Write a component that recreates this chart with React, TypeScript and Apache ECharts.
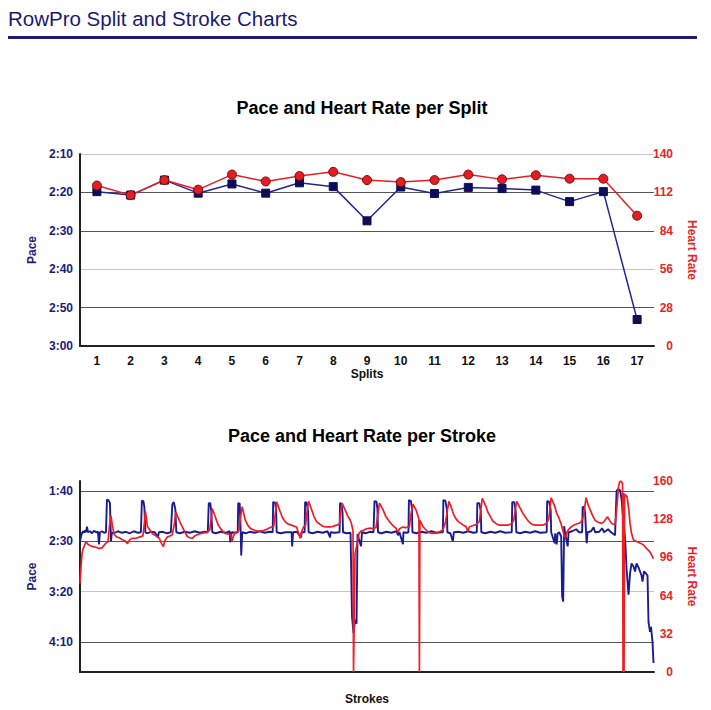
import React, { useEffect, useRef } from 'react';
import * as echarts from 'echarts';

// ---------- Split chart data ----------
const splitCategories = ['1', '2', '3', '4', '5', '6', '7', '8', '9', '10', '11', '12', '13', '14', '15', '16', '17'];
// pace per split, in seconds per 500m
const splitPaceSeconds = [139.8, 140.7, 136.8, 140.2, 137.8, 140.2, 137.5, 138.5, 147.4, 138.6, 140.3, 138.7, 139.0, 139.4, 142.4, 139.8, 173.1];
const splitHeartRate = [117, 110, 121, 114, 125, 120, 124, 127, 121, 119.5, 121, 125, 121.5, 124.5, 122, 122, 95];

// ---------- Stroke chart data: [stroke, value] ----------
const strokePace: number[][] = [
  [0, 150], [3, 143], [6, 140], [8, 141.5], [10, 139], [12, 141], [14, 135.5], [16, 141], [20, 140], [24, 142], [28, 139.5], [32, 141], [36, 140.5], [38, 153], [40, 141], [44, 140], [48, 141.5], [52, 141],
  [54, 108.5], [57, 109], [60, 112], [62, 150], [64, 141], [68, 142], [76, 140], [84, 141.5], [92, 140.5], [100, 142], [108, 140], [116, 141.5], [122, 141],
  [124, 109.5], [127, 110], [129, 116], [131, 141], [134, 142], [142, 140.5], [150, 141], [156, 146], [158, 141], [166, 140.5], [174, 142], [182, 141],
  [185, 113], [188, 111], [191, 118], [193, 141], [200, 142], [210, 140.5], [220, 141.5], [230, 140], [240, 141.5], [250, 140.5], [256, 141],
  [258, 112], [261, 112], [263, 120], [265, 141], [272, 142], [282, 140.5], [292, 141.5], [300, 140], [301, 151], [304, 141], [312, 141.5], [316, 141],
  [317, 112], [320, 112.5], [322, 141], [323, 164], [325, 141], [332, 142], [340, 140.5], [350, 141.5], [360, 140], [370, 141.5], [380, 140.5], [386, 141],
  [387, 111], [391, 111.5], [393, 120], [394, 141], [402, 142], [412, 141], [424, 141], [425, 155], [427, 141], [434, 140.5], [443, 146], [444, 141], [450, 141],
  [451, 111], [454, 111.5], [457, 120], [458, 141], [466, 142], [476, 140.5], [486, 141.5], [496, 140], [501, 146], [502, 141], [510, 141.5], [520, 141],
  [521, 112], [524, 112.5], [526, 122], [527, 141], [534, 142], [542, 141.5], [545, 225], [548, 241], [551, 228], [554, 232], [556, 143], [563, 155], [565, 141], [572, 142], [580, 140.5], [588, 141],
  [590, 110], [594, 110.5], [596, 118], [597, 141], [604, 142], [614, 140.5], [624, 141.5], [634, 140], [637, 144], [640, 141], [647, 153], [648, 141], [654, 141.5], [658, 141],
  [659, 109], [663, 110], [665, 117], [666, 141], [674, 142], [684, 140.5], [694, 141.5], [704, 140], [714, 141.5], [724, 141], [727, 141],
  [728, 109], [732, 109.5], [735, 118], [736, 141], [742, 142], [747, 150], [749, 141], [758, 140.5], [768, 141.5], [778, 140], [788, 141.5], [795, 141],
  [796, 112], [800, 112], [803, 120], [804, 141], [812, 142], [822, 140.5], [832, 141.5], [842, 140], [852, 141.5], [865, 141],
  [866, 111], [870, 111], [873, 120], [874, 141], [882, 142], [892, 140.5], [902, 141.5], [912, 140], [922, 141.5], [935, 141],
  [936, 110], [940, 110.5], [943, 119], [944, 141], [951, 152], [952, 142], [955, 153], [957, 142], [960, 141], [964, 145], [966, 205], [968, 210], [970, 135], [972, 142], [977, 155], [979, 141], [986, 140], [994, 138], [1000, 141], [1006, 141],
  [1007, 116], [1010, 115.5], [1012, 122], [1015, 152], [1017, 141], [1024, 140], [1029, 136], [1032, 141], [1040, 140.5], [1046, 137], [1050, 141], [1058, 138], [1064, 141], [1072, 144],
  [1075, 100], [1078, 98], [1082, 99], [1085, 108], [1089, 133], [1092, 146], [1095, 177], [1099, 203], [1102, 182], [1105, 172], [1109, 175], [1112, 180], [1115, 172], [1119, 176], [1122, 180], [1125, 184], [1127, 190], [1130, 180], [1134, 182], [1137, 184], [1139, 230], [1142, 240], [1144, 235], [1147, 250], [1149, 271],
];

const strokeHeartRate: number[][] = [
  [0, 74], [2, 88], [4, 99], [6, 103], [10, 107], [12, 109], [16, 107], [20, 106], [26, 105], [32, 104.5], [38, 103.5], [44, 104], [48, 106], [52, 108], [56, 109],
  [59, 122], [62, 131], [65, 122], [69, 115], [74, 113], [79, 112.5], [84, 111], [90, 110], [95, 107.5], [100, 111], [105, 112], [112, 112], [119, 113], [126, 114],
  [129, 125], [131, 134.5], [135, 122], [140, 119], [145, 116], [152, 114], [159, 112], [163, 108], [167, 105], [170, 110], [175, 113], [180, 114], [185, 115],
  [189, 124], [192, 134], [196, 130], [202, 124], [208, 119], [215, 113.5], [220, 112.5], [225, 112], [230, 114], [235, 115], [242, 116], [248, 116.5], [255, 117], [260, 119],
  [265, 137], [271, 130], [276, 124], [281, 120.5], [286, 118], [291, 116], [298, 115.5], [302, 115], [305, 110], [307, 113.5], [311, 117], [318, 118],
  [321, 128], [325, 138.5], [331, 127.5], [336, 123], [341, 120.5], [348, 119], [355, 118], [362, 118], [368, 118.5], [374, 119.5], [381, 121], [388, 122],
  [391, 132], [394, 142.5], [401, 134.5], [406, 129], [411, 126], [417, 124], [424, 123], [430, 122], [434, 121.5], [438, 116], [441, 112], [443, 116], [447, 121], [452, 123],
  [455, 135], [458, 143], [464, 136], [469, 130], [474, 126], [480, 124], [487, 122], [494, 121.5], [501, 121.5], [507, 122], [514, 123], [520, 124],
  [522, 133], [525, 141.5], [531, 136], [536, 131], [541, 127.5], [544, 124], [547, 118], [548, 0], [551, 99], [554, 105], [559, 116], [563, 118], [567, 118.5], [574, 120], [581, 120.5], [587, 120], [593, 121],
  [596, 130], [600, 141.5], [607, 136], [613, 130], [620, 126], [625, 123.5], [630, 121.5], [634, 120], [637, 117], [640, 120], [647, 121.5], [652, 121], [657, 121.5], [660, 122],
  [663, 132], [667, 140.5], [673, 136], [677, 131], [679, 128], [680, 0], [681, 127], [687, 122], [691, 120], [697, 117.5], [702, 116.5], [707, 116], [713, 116.5], [720, 117.5], [727, 119],
  [732, 125], [736, 135], [739, 143], [743, 139], [748, 132.5], [753, 128.5], [758, 126], [763, 124.5], [768, 123], [773, 122], [777, 118], [780, 121.5], [786, 122.5], [791, 123], [795, 124],
  [800, 126], [803, 136], [806, 145.5], [813, 139], [817, 134], [823, 129.5], [827, 126.5], [833, 124.5], [837, 123.5], [843, 123], [849, 123], [856, 123], [861, 123.5], [865, 124.5],
  [869, 127], [872, 136], [875, 143], [881, 138], [887, 133], [893, 129.5], [898, 126.5], [903, 124.5], [907, 123.5], [913, 123], [920, 123], [926, 123], [930, 123.5], [935, 124.5],
  [939, 128], [942, 138], [944, 146], [951, 139], [955, 133], [959, 129.5], [964, 124], [966, 121], [970, 114], [973, 113], [976, 117.5], [979, 119.5], [984, 121.5], [989, 123], [995, 124], [1002, 125], [1006, 127],
  [1009, 131], [1011, 138], [1014, 146], [1018, 140], [1022, 136], [1027, 131], [1032, 127], [1038, 125.5], [1045, 124.5], [1050, 126], [1054, 128.5], [1057, 130], [1061, 127], [1065, 124.5], [1068, 124], [1072, 123.5],
  [1075, 135], [1079, 155.5], [1081, 159], [1084, 160], [1087, 158], [1088, 0], [1089, 150], [1090, 0], [1091, 149], [1096, 147], [1099, 138], [1102, 124.5], [1105, 116], [1109, 110.5], [1114, 109.5], [1119, 108.5], [1125, 107.5], [1130, 106], [1135, 103.5], [1140, 101.5], [1144, 99], [1149, 95],
];

// tick labels shown on the stroke pace axis (seconds)
const strokePaceLabelValues = [100, 150, 200, 250];

const FONT = 'Liberation Sans, Arial, Helvetica, sans-serif';
const NAVY = '#1b1b7a';
const RED = '#e8242a';

const fmtPace = (v: number) => {
  const m = Math.floor(v / 60);
  const s = Math.round(v - m * 60);
  return `${m}:${String(s).padStart(2, '0')}`;
};

export default function App() {
  const ref = useRef<HTMLDivElement>(null);
  useEffect(() => {
    if (!ref.current) return;
    const chart = echarts.init(ref.current, undefined, { renderer: 'svg' });

    const topGridColors = ['#c4c4c4', '#555', '#555', '#c4c4c4', '#555', '#333'];
    const strokeTicks: number[] = [];
    for (let v = 90; v <= 280; v += 10) strokeTicks.push(v);
    const strokeGridColors = strokeTicks.map((v) =>
      v === 200 ? '#c4c4c4' : strokePaceLabelValues.includes(v) ? '#555' : 'rgba(0,0,0,0)'
    );

    const boldText = (color: string) => ({ color, fontWeight: 'bold' as const, fontSize: 12, fontFamily: FONT });

    chart.setOption({
      animation: false,
      backgroundColor: '#fff',
      graphic: [
        { type: 'text', x: 8, y: 18, style: { text: 'RowPro Split and Stroke Charts', fill: '#1a1a72', font: `20.5px ${FONT}`, verticalAlign: 'middle', align: 'left' } },
        { type: 'rect', shape: { x: 8, y: 36, width: 689, height: 3 }, style: { fill: '#1c1c78' } },
        { type: 'text', x: 362, y: 108, style: { text: 'Pace and Heart Rate per Split', fill: '#000', font: `bold 18px ${FONT}`, verticalAlign: 'middle', align: 'center' } },
        { type: 'text', x: 362, y: 436, style: { text: 'Pace and Heart Rate per Stroke', fill: '#000', font: `bold 18px ${FONT}`, verticalAlign: 'middle', align: 'center' } },
      ],
      grid: [
        { left: 80, top: 154, width: 574, height: 192 },
        { left: 80, top: 481, width: 574, height: 191 },
      ],
      xAxis: [
        {
          gridIndex: 0, type: 'category', data: splitCategories, boundaryGap: true,
          axisLine: { onZero: false, lineStyle: { color: '#222', width: 2 } },
          axisTick: { show: false },
          axisLabel: { ...boldText('#111'), margin: 9 },
          name: 'Splits', nameLocation: 'middle', nameGap: 19, nameTextStyle: boldText('#111'),
        },
        {
          gridIndex: 1, type: 'value', min: 0, max: 1150,
          axisLine: { onZero: false, lineStyle: { color: '#222', width: 2 } },
          axisTick: { show: false }, axisLabel: { show: false }, splitLine: { show: false },
          name: 'Strokes', nameLocation: 'middle', nameGap: 21, nameTextStyle: boldText('#111'),
        },
      ],
      yAxis: [
        {
          gridIndex: 0, type: 'value', inverse: true, min: 130, max: 180, interval: 10, position: 'left',
          axisLine: { show: true, onZero: false, lineStyle: { color: '#222', width: 2 } },
          axisTick: { show: false },
          axisLabel: { ...boldText(NAVY), margin: 7, formatter: (v: number) => fmtPace(v) },
          splitLine: { show: true, lineStyle: { color: topGridColors, width: 1 } },
          name: 'Pace', nameLocation: 'middle', nameGap: 34, nameRotate: 90, nameTextStyle: boldText(NAVY),
        },
        {
          gridIndex: 0, type: 'value', min: 0, max: 140, interval: 28, position: 'right',
          axisLine: { show: false }, axisTick: { show: false }, splitLine: { show: false },
          axisLabel: { ...boldText(RED), margin: 19, align: 'right' },
          name: 'Heart Rate', nameLocation: 'middle', nameGap: 32, nameRotate: -90, nameTextStyle: boldText(RED),
        },
        {
          gridIndex: 1, type: 'value', inverse: true, min: 90, max: 280, interval: 10, position: 'left',
          axisLine: { show: true, onZero: false, lineStyle: { color: '#222', width: 2 } },
          axisTick: { show: false },
          axisLabel: {
            ...boldText(NAVY), margin: 7,
            formatter: (v: number) => (strokePaceLabelValues.includes(v) ? fmtPace(v) : ''),
          },
          splitLine: { show: true, lineStyle: { color: strokeGridColors, width: 1 } },
          name: 'Pace', nameLocation: 'middle', nameGap: 34, nameRotate: 90, nameTextStyle: boldText(NAVY),
        },
        {
          gridIndex: 1, type: 'value', min: 0, max: 160, interval: 32, position: 'right',
          axisLine: { show: false }, axisTick: { show: false }, splitLine: { show: false },
          axisLabel: { ...boldText(RED), margin: 19, align: 'right' },
          name: 'Heart Rate', nameLocation: 'middle', nameGap: 32, nameRotate: -90, nameTextStyle: boldText(RED),
        },
      ],
      series: [
        {
          type: 'line', xAxisIndex: 0, yAxisIndex: 0, data: splitPaceSeconds,
          symbol: 'rect', symbolSize: 8,
          lineStyle: { color: '#23239a', width: 1.5 },
          itemStyle: { color: '#0d0d58', borderColor: '#0d0d58' },
        },
        {
          type: 'line', xAxisIndex: 0, yAxisIndex: 1, data: splitHeartRate,
          symbol: 'circle', symbolSize: 9,
          lineStyle: { color: '#ec1c24', width: 1.5 },
          itemStyle: { color: '#e21d23', borderColor: '#7a0a0a', borderWidth: 1 },
        },
        {
          type: 'line', xAxisIndex: 1, yAxisIndex: 2, data: strokePace,
          showSymbol: false, symbol: 'none',
          lineStyle: { color: '#1c1c92', width: 1.9 },
        },
        {
          type: 'line', xAxisIndex: 1, yAxisIndex: 3, data: strokeHeartRate,
          showSymbol: false, symbol: 'none',
          lineStyle: { color: '#f01d25', width: 1.7 },
        },
      ],
    });
    return () => chart.dispose();
  }, []);
  return <div ref={ref} style={{ position: 'fixed', left: 0, top: 0, width: 711, height: 710 }} />;
}
